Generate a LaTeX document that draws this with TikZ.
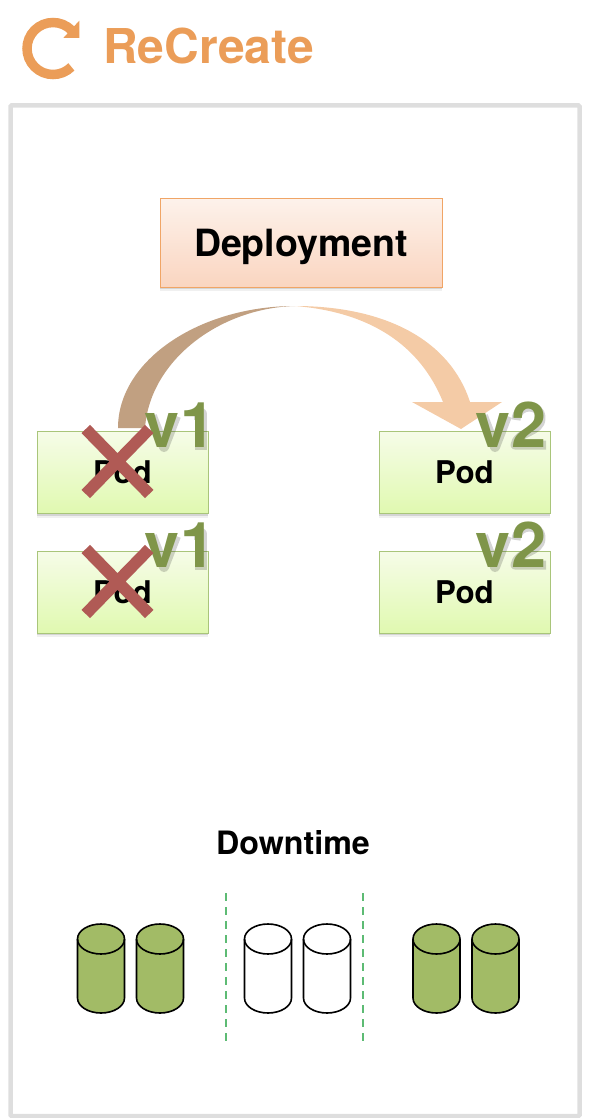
\documentclass[tikz,border=0pt]{standalone}
\usepackage{fontspec}
\setmainfont{TeX Gyre Heros}
\usetikzlibrary{shapes.misc,shadows}

\definecolor{recreateorange}{HTML}{EB9D58}
\definecolor{verdgreen}{HTML}{7F9549}
\definecolor{crossred}{HTML}{B05A55}
\definecolor{cylgreen}{HTML}{A2BB66}
\definecolor{dashgreen}{HTML}{5DBB74}
\definecolor{bendtan}{HTML}{C1A081}
\definecolor{bendpeach}{HTML}{F4CBA6}
\definecolor{deploytop}{HTML}{FDF2EB}
\definecolor{deploybot}{HTML}{FAD5C0}
\definecolor{deployline}{HTML}{F0A566}
\definecolor{podtop}{HTML}{F6FCE8}
\definecolor{podbot}{HTML}{E0F9B0}
\definecolor{podline}{HTML}{A9C57A}

\newcommand{\fsize}[1]{\fontsize{#1}{#1}\selectfont\bfseries}

\begin{document}
\begin{tikzpicture}[
            x=1pt,y=-1pt,
            boxed/.style={draw,rectangle,inner sep=0,outer sep=0,text depth=0pt,align=center,
              drop shadow={shadow xshift=0pt,shadow yshift=-2pt,opacity=.25},
              drop shadow={shadow xshift=0pt,shadow yshift=-4pt,opacity=.12}},
            deploy/.style={boxed,minimum width=282,minimum height=89,top color=deploytop,bottom color=deploybot,draw=deployline,font=\fsize{37.5}},
            pod/.style={boxed,minimum width=171,minimum height=82,top color=podtop,bottom color=podbot,draw=podline,font=\fsize{31.3},node distance=119.5},
            ver/.style={inner sep=0,outer sep=0,anchor=base,text=verdgreen,font=\fsize{63}},
            vershade/.style={draw=black,draw opacity=.17,line width=10,line join=round},
            oneshade/.pic={
              \path[vershade] (-28,-31) -- (-16,0) -- (-4,-31);
              \path[vershade,line width=12] (14,-33) -- (21,-33) -- (21,3);
            },
            twoshade/.pic={
              \path[vershade] (-28,-31) -- (-16,0) -- (-4,-31);
              \path[vershade,line width=9] (35,-2) -- (4,-2) .. controls (6,-16) and (30,-14) .. (30,-29) .. controls (30,-44) and (6,-44) .. (5,-27);
            },
            crossmark/.style={cross out,draw=crossred,line width=11.8,inner sep=0,outer sep=0,minimum width=63.5,minimum height=65},
            cylbody/.pic={
              \path[pic actions] (-23.5,-29.5) -- (-23.5,29.5) arc[start angle=180,end angle=0,x radius=23.5,y radius=15]
                -- (23.5,-29.5) arc[start angle=0,end angle=-180,x radius=23.5,y radius=15] -- cycle;
              \path[pic actions,fill=none] (-23.5,-29.5) arc[start angle=180,end angle=0,x radius=23.5,y radius=15];
            },
            cyl/.style={draw=black,line width=1.6},
            cylon/.style={cyl,fill=cylgreen},
            divider/.style={draw=dashgreen,line width=2,dash pattern=on 8pt off 6pt}
          ]
          \useasboundingbox (0,0) rectangle (592,1118);

          %frame
          \draw[line width=4.5,draw=black!13,rounded corners=1] (10.5,105.5) rectangle (579.5,1116);

          %title
          \draw[line width=9.5,draw=recreateorange] (71.4,66.9) arc[start angle=45,end angle=315,radius=26];
          \fill[recreateorange] (79.3,20.7) -- (79.3,38) -- (63.3,38) -- cycle;
          \node[inner sep=0,anchor=base west,text=recreateorange,font=\fsize{48}] (title) at (103,63.3) {ReCreate};

          %deployment
          \node[deploy] (deployment) at (301,242.5) {Deployment};

          %bend
          \coordinate (bendtop) at (295,306);
          \coordinate (bendtip) at (461,429);
          \fill[bendtan] (118,428) .. controls (118,360) and (200,306) .. (bendtop) .. controls (220,308) and (150,360) .. (145,428) -- cycle;
          \fill[bendpeach] (bendtop) .. controls (385,306) and (450,340) .. (470,402) -- (502,402) -- (bendtip) -- (412,402) -- (443,402) .. controls (420,345) and (370,312) .. (bendtop) -- cycle;

          %pods
          \node[pod] (pod1) at (122.5,472.5) {Pod};
          \node[below of = pod1,pod] (pod2) {Pod};
          \node[pod] (pod3) at (464.5,472.5) {Pod};
          \node[below of = pod3,pod] (pod4) {Pod};

          %versions
          \pic (shade1) at (180,447) {oneshade};
          \pic (shade2) at (180,567) {oneshade};
          \pic (shade3) at (511,447) {twoshade};
          \pic (shade4) at (511,567) {twoshade};
          \node[ver] (ver1) at (180,447) {v1};
          \node[ver] (ver2) at (180,567) {v1};
          \node[ver] (ver3) at (511,447) {v2};
          \node[ver] (ver4) at (511,567) {v2};

          %crosses
          \node[crossmark] (cross1) at (117.5,461.5) {};
          \node[crossmark] (cross2) at (117.5,581.5) {};

          %downtime
          \node[inner sep=0,text depth=0pt,font=\fsize{32.2}] (downtime) at (293,842.5) {Downtime};
          \pic[cylon] (cyl1) at (101,968.5) {cylbody};
          \pic[cylon] (cyl2) at (160,968.5) {cylbody};
          \pic[cyl] (cyl3) at (268,968.5) {cylbody};
          \pic[cyl] (cyl4) at (327,968.5) {cylbody};
          \pic[cylon] (cyl5) at (436.5,968.5) {cylbody};
          \pic[cylon] (cyl6) at (495.5,968.5) {cylbody};

          \coordinate (dash1a) at (226,893);
          \coordinate (dash1b) at (226,1041);
          \coordinate (dash2a) at (363,893);
          \coordinate (dash2b) at (363,1041);
          \path[divider] (dash1a) -- (dash1b);
          \path[divider] (dash2a) -- (dash2b);
      \end{tikzpicture}
\end{document}
